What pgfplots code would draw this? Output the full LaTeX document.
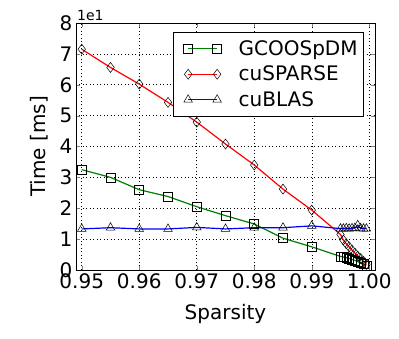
\documentclass[border=0pt]{standalone}
\usepackage{fontspec}
\setmainfont{DejaVu Sans}
\usepackage{pgfplots}
\pgfplotsset{compat=1.18}

\definecolor{mplgreen}{rgb}{0,0.5,0}
\definecolor{mplred}{rgb}{1,0,0}
\definecolor{mplblue}{rgb}{0,0,1}

\begin{document}
\begin{tikzpicture}[font=\fontsize{20}{24}\selectfont]
\path[use as bounding box] (-76pt,-69pt) rectangle (323pt,270pt);
\begin{axis}[
    scale only axis,
    width=299pt,
    height=247pt,
    xmin=0.949, xmax=1.001,
    ymin=0, ymax=8,
    xtick={0.95,0.96,0.97,0.98,0.99,1.00},
    xticklabels={0.95,0.96,0.97,0.98,0.99,1.00},
    ytick={0,1,2,3,4,5,6,7,8},
    yticklabels={0,1,2,3,4,5,6,7,8},
    tick align=inside,
    major tick length=4pt,
    axis line style={line width=0.8pt},
    grid=major,
    major grid style={black, line width=0.5pt, dash pattern=on 1pt off 2.5pt},
    xlabel={Sparsity},
    ylabel={Time [ms]},
    xlabel style={at={(axis description cs:0.5,-0.178)}, anchor=center},
    ylabel style={at={(axis description cs:-0.122,0.5)}, anchor=center},
    legend cell align=left,
    legend style={at={(0.963,0.964)}, anchor=north east, draw=black,
        line width=0.6pt, inner xsep=4pt, inner ysep=6.3pt, row sep=5pt,
        font=\fontsize{20}{24}\selectfont,
        nodes={inner sep=2pt},
        /tikz/every odd column/.append style={column sep=15pt},
        /tikz/every even column/.append style={text height=15pt, text depth=4.5pt}},
    legend image code/.code={
        \path (0pt,0pt);
        \draw[mark repeat=2, mark phase=1, #1]
        plot coordinates {(10pt,0pt) (24.5pt,0pt) (39pt,0pt)};
    },
]
\addplot[color=mplgreen, line width=1.2pt, mark=square, mark size=4.5pt,
    mark options={draw=black, fill=none, line width=0.5pt, solid}]
coordinates {
    (0.950,3.25) (0.955,3.00) (0.960,2.60) (0.965,2.38) (0.970,2.05)
    (0.975,1.76) (0.980,1.49) (0.985,1.03) (0.990,0.75)
    (0.9950,0.44) (0.9955,0.42) (0.9960,0.40) (0.9965,0.37) (0.9970,0.34)
    (0.9975,0.31) (0.9980,0.27) (0.9985,0.23) (0.9990,0.19) (0.9995,0.15)
};
\addlegendentry{GCOOSpDM}
\addplot[color=mplred, line width=1.2pt, mark=diamond, mark size=5pt,
    mark options={draw=black, fill=none, line width=0.5pt, solid}]
coordinates {
    (0.950,7.15) (0.955,6.56) (0.960,6.02) (0.965,5.43) (0.970,4.79)
    (0.975,4.08) (0.980,3.40) (0.985,2.62) (0.990,1.94)
    (0.9950,1.15) (0.9955,0.97) (0.9960,0.85) (0.9965,0.75) (0.9970,0.65)
    (0.9975,0.55) (0.9980,0.45) (0.9985,0.37) (0.9990,0.28) (0.9995,0.18)
};
\addlegendentry{cuSPARSE}
\addplot[color=mplblue, line width=1.2pt, mark=triangle, mark size=5pt,
    mark options={draw=black, fill=none, line width=0.5pt, solid}]
coordinates {
    (0.950,1.33) (0.955,1.37) (0.960,1.33) (0.965,1.33) (0.970,1.38)
    (0.975,1.33) (0.980,1.37) (0.985,1.37) (0.990,1.43)
    (0.9950,1.34) (0.9955,1.34) (0.9960,1.35) (0.9965,1.34) (0.9970,1.35)
    (0.9975,1.36) (0.9980,1.45) (0.9985,1.35) (0.9990,1.34) (0.9995,1.34)
};
\addlegendentry{cuBLAS}
\end{axis}
\node[anchor=base west, font=\fontsize{14}{16}\selectfont, inner sep=0pt]
    at ([xshift=1pt,yshift=2pt]current axis.north west) {1e1};
\end{tikzpicture}
\end{document}
